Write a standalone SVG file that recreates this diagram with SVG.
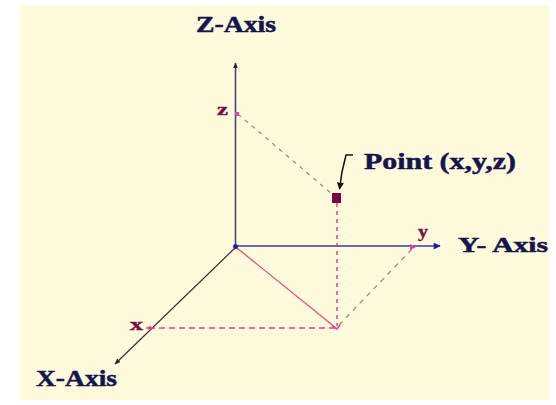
<svg xmlns="http://www.w3.org/2000/svg" width="556" height="405" viewBox="0 0 556 405">
<defs>
<style>
.lbl{font-family:"Liberation Serif","Times New Roman",serif;font-weight:bold;fill:#14144f;stroke:#14144f;stroke-width:0.5}
.sm{font-family:"Liberation Serif","Times New Roman",serif;font-weight:bold;fill:#7a1040;stroke:#7a1040;stroke-width:0.4}
.axis{fill:none;stroke-width:1.6}
</style>
<marker id="ahDark" viewBox="0 0 10 10" refX="9" refY="5" markerWidth="6" markerHeight="6" orient="auto" markerUnits="userSpaceOnUse"><path d="M0,1 L10,5 L0,9 Z" fill="#202040"/></marker>
<marker id="ahBlue" viewBox="0 0 10 10" refX="9" refY="5" markerWidth="8" markerHeight="7" orient="auto" markerUnits="userSpaceOnUse"><path d="M0,0 L10,5 L0,10 Z" fill="#2020b0"/></marker>
<marker id="ahPink" viewBox="0 0 10 10" refX="9" refY="5" markerWidth="6" markerHeight="6" orient="auto" markerUnits="userSpaceOnUse"><path d="M0,1 L10,5 L0,9 Z" fill="#e04090"/></marker>
<marker id="ahBlack" viewBox="0 0 10 10" refX="9" refY="5" markerWidth="7" markerHeight="7" orient="auto" markerUnits="userSpaceOnUse"><path d="M0,0 L10,5 L0,10 Z" fill="#101010"/></marker>
</defs>
<rect x="0" y="0" width="556" height="405" fill="#ffffff"/>
<rect x="20" y="5" width="529" height="395" fill="#fffadc"/>
<g id="connectors">
<line x1="235.5" y1="247" x2="235.5" y2="63" class="axis" stroke="#44447a" marker-end="url(#ahDark)"/>
<line x1="235" y1="246" x2="440" y2="246" class="axis" stroke="#3c3c9a" marker-end="url(#ahBlue)"/>
<line x1="236" y1="247" x2="115" y2="364" stroke="#303030" stroke-width="1.2" marker-end="url(#ahDark)"/>
<line x1="237" y1="248" x2="336" y2="328" stroke="#e05080" stroke-width="1.3"/>
<line x1="238" y1="114" x2="332" y2="194" stroke="#b07878" stroke-width="1.2" stroke-dasharray="4,5"/>
<line x1="337" y1="203" x2="337" y2="326" stroke="#d03080" stroke-width="1.3" stroke-dasharray="4,4"/>
<line x1="335" y1="328" x2="146" y2="328" stroke="#e04090" stroke-width="1.3" stroke-dasharray="6,4" marker-end="url(#ahPink)"/>
<line x1="339" y1="325" x2="412" y2="249" stroke="#a08080" stroke-width="1.2" stroke-dasharray="5,5"/>
<polyline points="353,155 346,155 342,172 339.5,189" fill="none" stroke="#101010" stroke-width="1.5" marker-end="url(#ahBlack)"/>
</g>
<g id="origin"><circle cx="235.5" cy="246.5" r="2.5" fill="#2020b0"/></g>
<g id="markers">
<rect x="235" y="112" width="4" height="4" fill="#e040b0"/>
<path d="M410,244 L416,247 L410,250 Z" fill="#e040b0"/>
<path d="M332,326 L337,329 L340,325" fill="none" stroke="#e040b0" stroke-width="1.5"/>
</g>
<g id="point"><rect x="332" y="193" width="9" height="10" fill="#800040"/></g>
<g id="labels">
<text class="lbl" x="196" y="32" font-size="23" textLength="80" lengthAdjust="spacingAndGlyphs">Z-Axis</text>
<text class="lbl" x="364" y="169" font-size="24" textLength="152" lengthAdjust="spacingAndGlyphs">Point (x,y,z)</text>
<text class="lbl" x="458" y="252" font-size="21" textLength="90" lengthAdjust="spacingAndGlyphs">Y- Axis</text>
<text class="lbl" x="36" y="386" font-size="24" textLength="81" lengthAdjust="spacingAndGlyphs">X-Axis</text>
<text class="sm" x="217" y="115" font-size="16" textLength="11" lengthAdjust="spacingAndGlyphs">z</text>
<text class="sm" x="418" y="237" font-size="17" textLength="10" lengthAdjust="spacingAndGlyphs">y</text>
<text class="sm" x="130" y="330" font-size="17" textLength="13" lengthAdjust="spacingAndGlyphs">x</text>
</g>
</svg>
